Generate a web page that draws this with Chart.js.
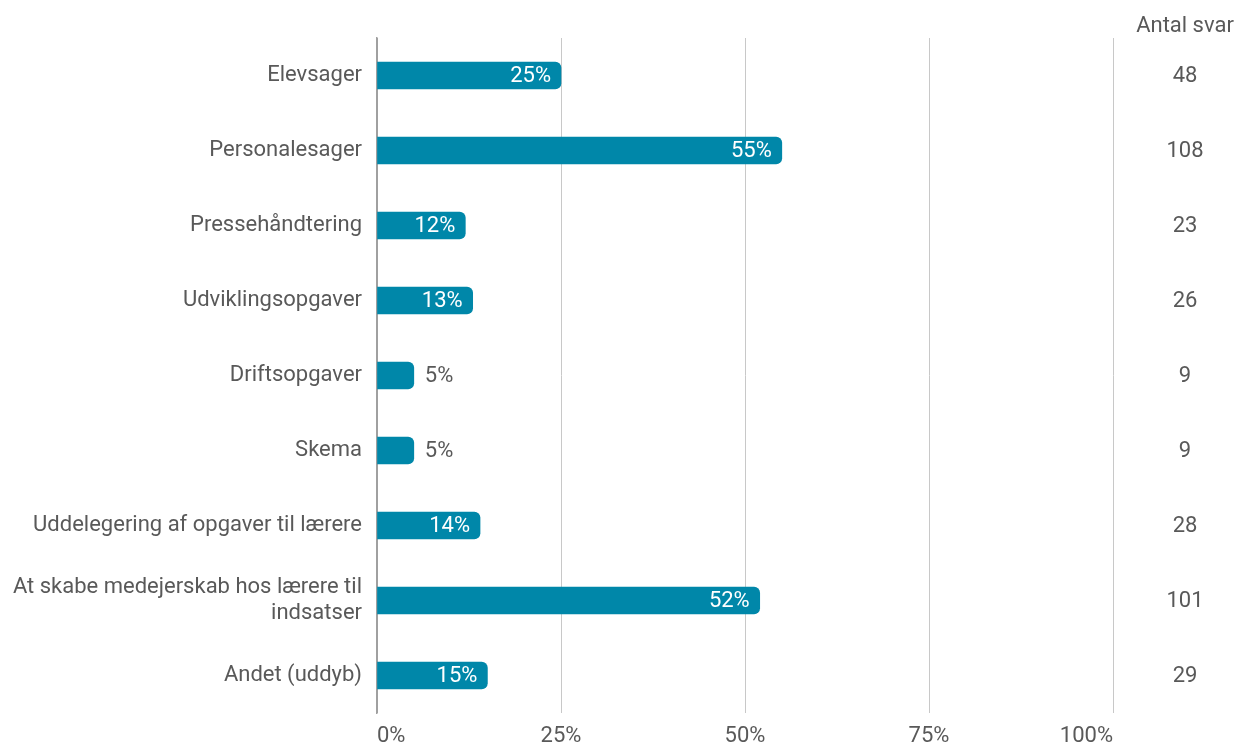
<!DOCTYPE html>
<html>
<head>
<meta charset="utf-8">
<script src="https://cdn.jsdelivr.net/npm/chart.js@4"></script>
<style>
  body { margin: 0; background: #fff; }
  #wrap { width: 1237px; height: 744px; }
</style>
</head>
<body>
<div id="wrap"><canvas id="barChart" width="1237" height="744"></canvas></div>
<script>
// data
var categories = [
  'Elevsager',
  'Personalesager',
  'Pressehåndtering',
  'Udviklingsopgaver',
  'Driftsopgaver',
  'Skema',
  'Uddelegering af opgaver til lærere',
  ['At skabe medejerskab hos lærere til', 'indsatser'],
  'Andet (uddyb)'
];
var percentValues = [25, 55, 12, 13, 5, 5, 14, 52, 15];
var answerCounts = [48, 108, 23, 26, 9, 9, 28, 101, 29];
var countHeader = 'Antal svar';

var textColor = '#595959';
var barColor = '#0087a9';
var fontFamily = 'Roboto, sans-serif';
var fontSize = 22;

// labels on the bars: white inside for wide bars, grey outside for the short ones
var valueLabels = {
  id: 'valueLabels',
  afterDatasetsDraw: function(chart) {
    var ctx = chart.ctx;
    var meta = chart.getDatasetMeta(0);
    ctx.save();
    ctx.font = fontSize + 'px ' + fontFamily;
    ctx.textBaseline = 'middle';
    meta.data.forEach(function(bar, i) {
      var v = percentValues[i];
      var txt = v + '%';
      if (v >= 10) {
        ctx.fillStyle = '#ffffff';
        ctx.textAlign = 'right';
        ctx.fillText(txt, bar.x - 10, bar.y + 1);
      } else {
        ctx.fillStyle = textColor;
        ctx.textAlign = 'left';
        ctx.fillText(txt, bar.x + 11, bar.y + 1);
      }
    });
    ctx.restore();
  }
};

// the "Antal svar" column on the right
var countColumn = {
  id: 'countColumn',
  afterDraw: function(chart) {
    var ctx = chart.ctx;
    var yScale = chart.scales.y;
    var cx = 1185;
    ctx.save();
    ctx.font = fontSize + 'px ' + fontFamily;
    ctx.fillStyle = textColor;
    ctx.textAlign = 'center';
    ctx.textBaseline = 'middle';
    ctx.fillText(countHeader, cx, 26);
    answerCounts.forEach(function(n, i) {
      ctx.fillText(String(n), cx, yScale.getPixelForValue(i) + 1);
    });
    ctx.restore();
  }
};

var barChart = new Chart(document.getElementById('barChart').getContext('2d'), {
  type: 'bar',
  data: {
    labels: categories,
    datasets: [{
      data: percentValues,
      backgroundColor: barColor,
      borderRadius: 6,
      borderSkipped: 'start',
      barThickness: 27
    }]
  },
  options: {
    indexAxis: 'y',
    responsive: false,
    animation: false,
    devicePixelRatio: 1,
    layout: { padding: { top: 38, right: 124, bottom: 0, left: 0 } },
    plugins: {
      legend: { display: false },
      tooltip: { enabled: false }
    },
    scales: {
      x: {
        min: 0,
        max: 100,
        ticks: {
          stepSize: 25,
          padding: 10,
          align: 'inner',
          color: textColor,
          font: { family: fontFamily, size: fontSize },
          callback: function(v) { return v + '%'; }
        },
        grid: {
          drawTicks: false,
          color: function(c) { return c.tick && c.tick.value === 0 ? '#a0a0a0' : '#c8c8c8'; },
          lineWidth: 1
        },
        border: { display: false },
        afterFit: function(scale) { scale.height = 31; }
      },
      y: {
        ticks: {
          padding: 15,
          color: textColor,
          font: { family: fontFamily, size: fontSize, lineHeight: 1.15 }
        },
        grid: { display: false, drawTicks: false },
        border: { display: true, color: '#a0a0a0', width: 1.5 },
        afterFit: function(scale) { scale.width = 377; }
      }
    }
  },
  plugins: [valueLabels, countColumn]
});
</script>
</body>
</html>
